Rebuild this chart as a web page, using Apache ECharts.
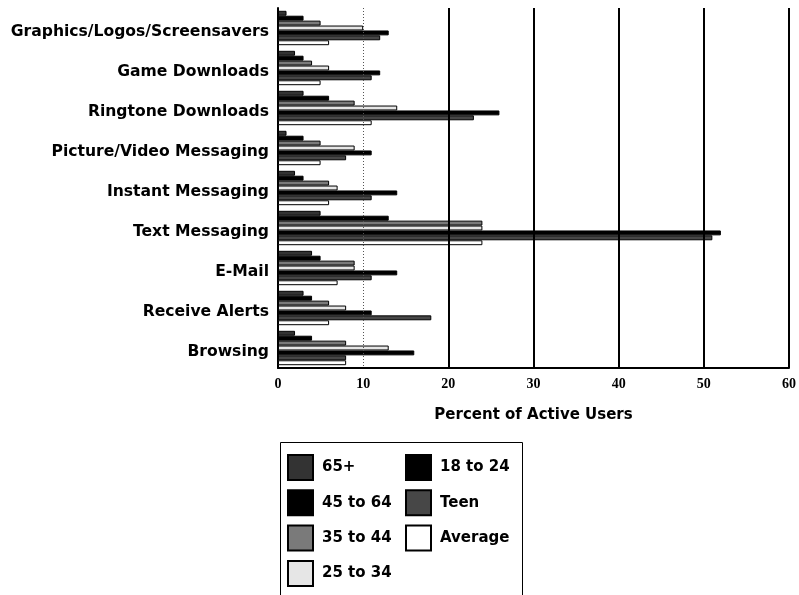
<!DOCTYPE html>
<html>
<head>
<meta charset="utf-8">
<script src="https://cdn.jsdelivr.net/npm/echarts@6/dist/echarts.min.js"></script>
<style>html,body{margin:0;padding:0;background:#fff}#c{width:799px;height:595px}</style>
</head>
<body>
<div id="c"></div>
<script>
const categories = ['Graphics/Logos/Screensavers','Game Downloads','Ringtone Downloads','Picture/Video Messaging','Instant Messaging','Text Messaging','E-Mail','Receive Alerts','Browsing'];
const seriesNames = ['65+','45 to 64','35 to 44','25 to 34','18 to 24','Teen','Average'];
const v65plus  = [1, 2, 3, 1, 2, 5, 4, 3, 2];
const v45to64  = [3, 3, 6, 3, 3, 13, 5, 4, 4];
const v35to44  = [5, 4, 9, 5, 6, 24, 9, 6, 8];
const v25to34  = [10, 6, 14, 9, 7, 24, 9, 8, 13];
const v18to24  = [13, 12, 26, 11, 14, 52, 14, 11, 16];
const vTeen    = [12, 11, 23, 8, 11, 51, 11, 18, 8];
const vAverage = [6, 5, 11, 5, 6, 24, 7, 6, 8];
const xTicks = [0, 10, 20, 30, 40, 50, 60];
const gridValues = [10, 20, 30, 40, 50, 60];

const seriesValues = [v65plus, v45to64, v35to44, v25to34, v18to24, vTeen, vAverage];
const colors = ['#333333', '#000000', '#7a7a7a', '#e6e6e6', '#000000', '#474747', '#ffffff'];
const FONT = 'DejaVu Sans';

const series = seriesNames.map((name, i) => {
  const s = {
    name: name,
    type: 'bar',
    data: seriesValues[i],
    barGap: '0%',
    barCategoryGap: '14%',
    itemStyle: { color: colors[i], borderColor: '#000', borderWidth: 1 },
    emphasis: { disabled: true }
  };
  if (i === 0) {
    s.markLine = {
      silent: true,
      symbol: 'none',
      label: { show: false },
      animation: false,
      data: gridValues.map(g => ({
        xAxis: g,
        lineStyle: g === 10
          ? { color: '#555', width: 1, type: [1, 2] }
          : { color: '#000', width: 2, type: 'solid' }
      }))
    };
  }
  return s;
});

const legendText = { fontFamily: FONT, fontWeight: 'bold', fontSize: 15, color: '#000', padding: [0, 0, 0, 4] };

const chart = echarts.init(document.getElementById('c'), null, { renderer: 'canvas' });
chart.setOption({
  animation: false,
  backgroundColor: '#fff',
  grid: { left: 278, right: 10, top: 8, bottom: 227, containLabel: false },
  xAxis: {
    type: 'value',
    min: xTicks[0],
    max: xTicks[xTicks.length - 1],
    interval: 10,
    name: 'Percent of Active Users',
    nameLocation: 'middle',
    nameGap: 40,
    nameTextStyle: { fontFamily: FONT, fontWeight: 'bold', fontSize: 15, color: '#000' },
    axisLine: { show: true, lineStyle: { color: '#000', width: 2 } },
    axisTick: { show: false },
    splitLine: { show: false },
    axisLabel: { fontFamily: 'Liberation Serif', fontWeight: 'bold', fontSize: 14, color: '#000', margin: 9 }
  },
  yAxis: {
    type: 'category',
    data: categories,
    inverse: true,
    axisLine: { show: true, lineStyle: { color: '#000', width: 2 } },
    axisTick: { show: false },
    axisLabel: { fontFamily: FONT, fontWeight: 'bold', fontSize: 15.6, color: '#000', margin: 9, verticalAlign: 'top', lineHeight: 8 }
  },
  legend: [
    {
      orient: 'vertical',
      left: 287, top: 454, height: 150, padding: 0,
      itemWidth: 25, itemHeight: 25, itemGap: 8.3,
      icon: 'rect',
      selectedMode: false,
      data: seriesNames.slice(0, 4),
      textStyle: legendText
    },
    {
      orient: 'vertical',
      left: 405, top: 454, height: 150, padding: 0,
      itemWidth: 25, itemHeight: 25, itemGap: 8.3,
      icon: 'rect',
      selectedMode: false,
      data: seriesNames.slice(4),
      textStyle: legendText
    }
  ],
  graphic: [{
    type: 'rect',
    left: 278, top: 440,
    shape: { width: 242, height: 170 },
    style: { fill: 'none', stroke: '#000', lineWidth: 1 },
    silent: true
  }],
  series: series
});
</script>
</body>
</html>
